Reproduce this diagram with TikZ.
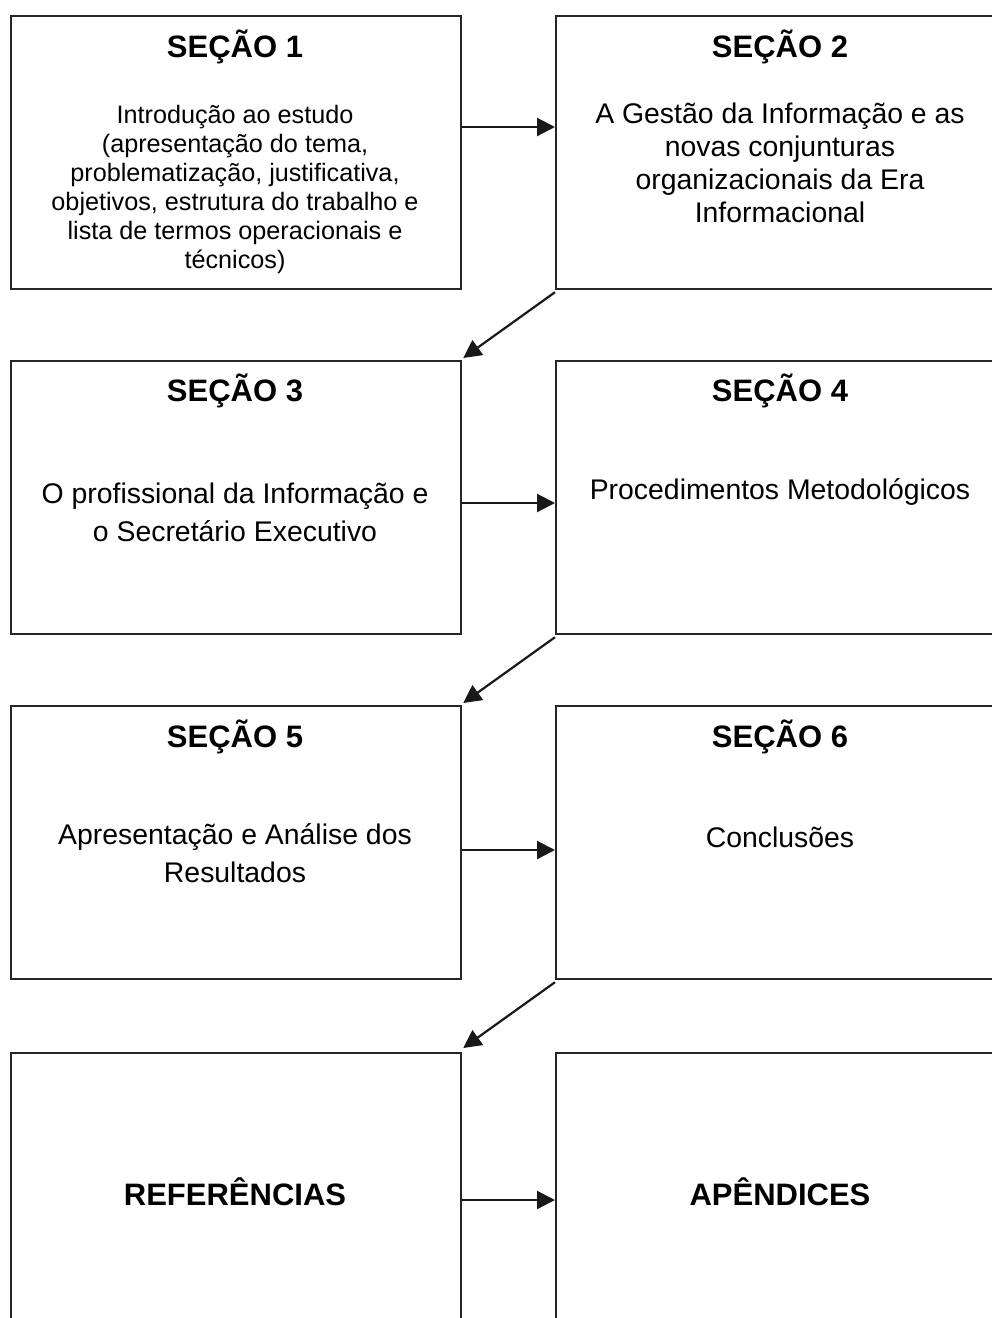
\documentclass[tikz,border=0pt]{standalone}
\usepackage{fontspec}
\setmainfont{Liberation Sans}
\usetikzlibrary{arrows.meta}
\begin{document}
\begin{tikzpicture}[x=1pt,y=-1pt,
  box/.style={draw=black!85,line width=2.2pt,minimum width=450pt,minimum height=273pt,inner sep=0pt,anchor=north west},
  head/.style={font=\fontsize{31}{36}\selectfont\bfseries,inner sep=0pt,anchor=base},
  bodysmall/.style={font=\fontsize{25.2}{29}\selectfont,align=center,inner sep=0pt},
  body/.style={font=\fontsize{28.4}{33}\selectfont,align=center,inner sep=0pt},
  bodywide/.style={font=\fontsize{28.4}{38}\selectfont,align=center,inner sep=0pt},
  arr/.style={draw=black!90,line width=2.2pt,-{Triangle[length=18pt,width=18pt]}}]
\useasboundingbox (0,0) rectangle (992,1318);
\clip (0,0) rectangle (992,1318);
\fill[white] (0,0) rectangle (992,1318);

% boxes
\node[box] (b1) at (10,15) {};
\node[box] (b2) at (555,15) {};
\node[box] (b3) at (10,360) {};
\node[box] (b4) at (555,360) {};
\node[box] (b5) at (10,705) {};
\node[box] (b6) at (555,705) {};
\node[box] (b7) at (10,1052) {};
\node[box] (b8) at (555,1052) {};

% headings
\node[head] (h1) at (235,57) {SEÇÃO 1};
\node[head] (h2) at (780,57) {SEÇÃO 2};
\node[head] (h3) at (235,401) {SEÇÃO 3};
\node[head] (h4) at (780,401) {SEÇÃO 4};
\node[head] (h5) at (235,747) {SEÇÃO 5};
\node[head] (h6) at (780,747) {SEÇÃO 6};
\node[head] (h7) at (235,1205) {REFERÊNCIAS};
\node[head] (h8) at (780,1205) {APÊNDICES};

% bodies
\node[bodysmall] (t1) at (235,189) {Introdução ao estudo\\(apresentação do tema,\\problematização, justificativa,\\objetivos, estrutura do trabalho e\\lista de termos operacionais e\\técnicos)};
\node[body] (t2) at (780,163) {A Gestão da Informação e as\\novas conjunturas\\organizacionais da Era\\Informacional};
\node[bodywide] (t3) at (235,512) {O profissional da Informação e\\o Secretário Executivo};
\node[body,anchor=base] (t4) at (780,499) {Procedimentos Metodológicos};
\node[bodywide] (t5) at (235,853) {Apresentação e Análise dos\\Resultados};
\node[body,anchor=base] (t6) at (780,847) {Conclusões};

% horizontal arrows
\draw[arr] ([yshift=-112pt]b1.north east) -- ([yshift=-112pt]b2.north west);
\draw[arr] ([yshift=-143pt]b3.north east) -- ([yshift=-143pt]b4.north west);
\draw[arr] ([yshift=-145pt]b5.north east) -- ([yshift=-145pt]b6.north west);
\draw[arr] ([yshift=-148pt]b7.north east) -- ([yshift=-148pt]b8.north west);

% diagonal arrows
\draw[arr] ([yshift=-2pt]b2.south west) -- ([shift={(1pt,2pt)}]b3.north east);
\draw[arr] ([yshift=-2pt]b4.south west) -- ([shift={(1pt,2pt)}]b5.north east);
\draw[arr] ([yshift=-2pt]b6.south west) -- ([shift={(1pt,4pt)}]b7.north east);
\end{tikzpicture}
\end{document}
